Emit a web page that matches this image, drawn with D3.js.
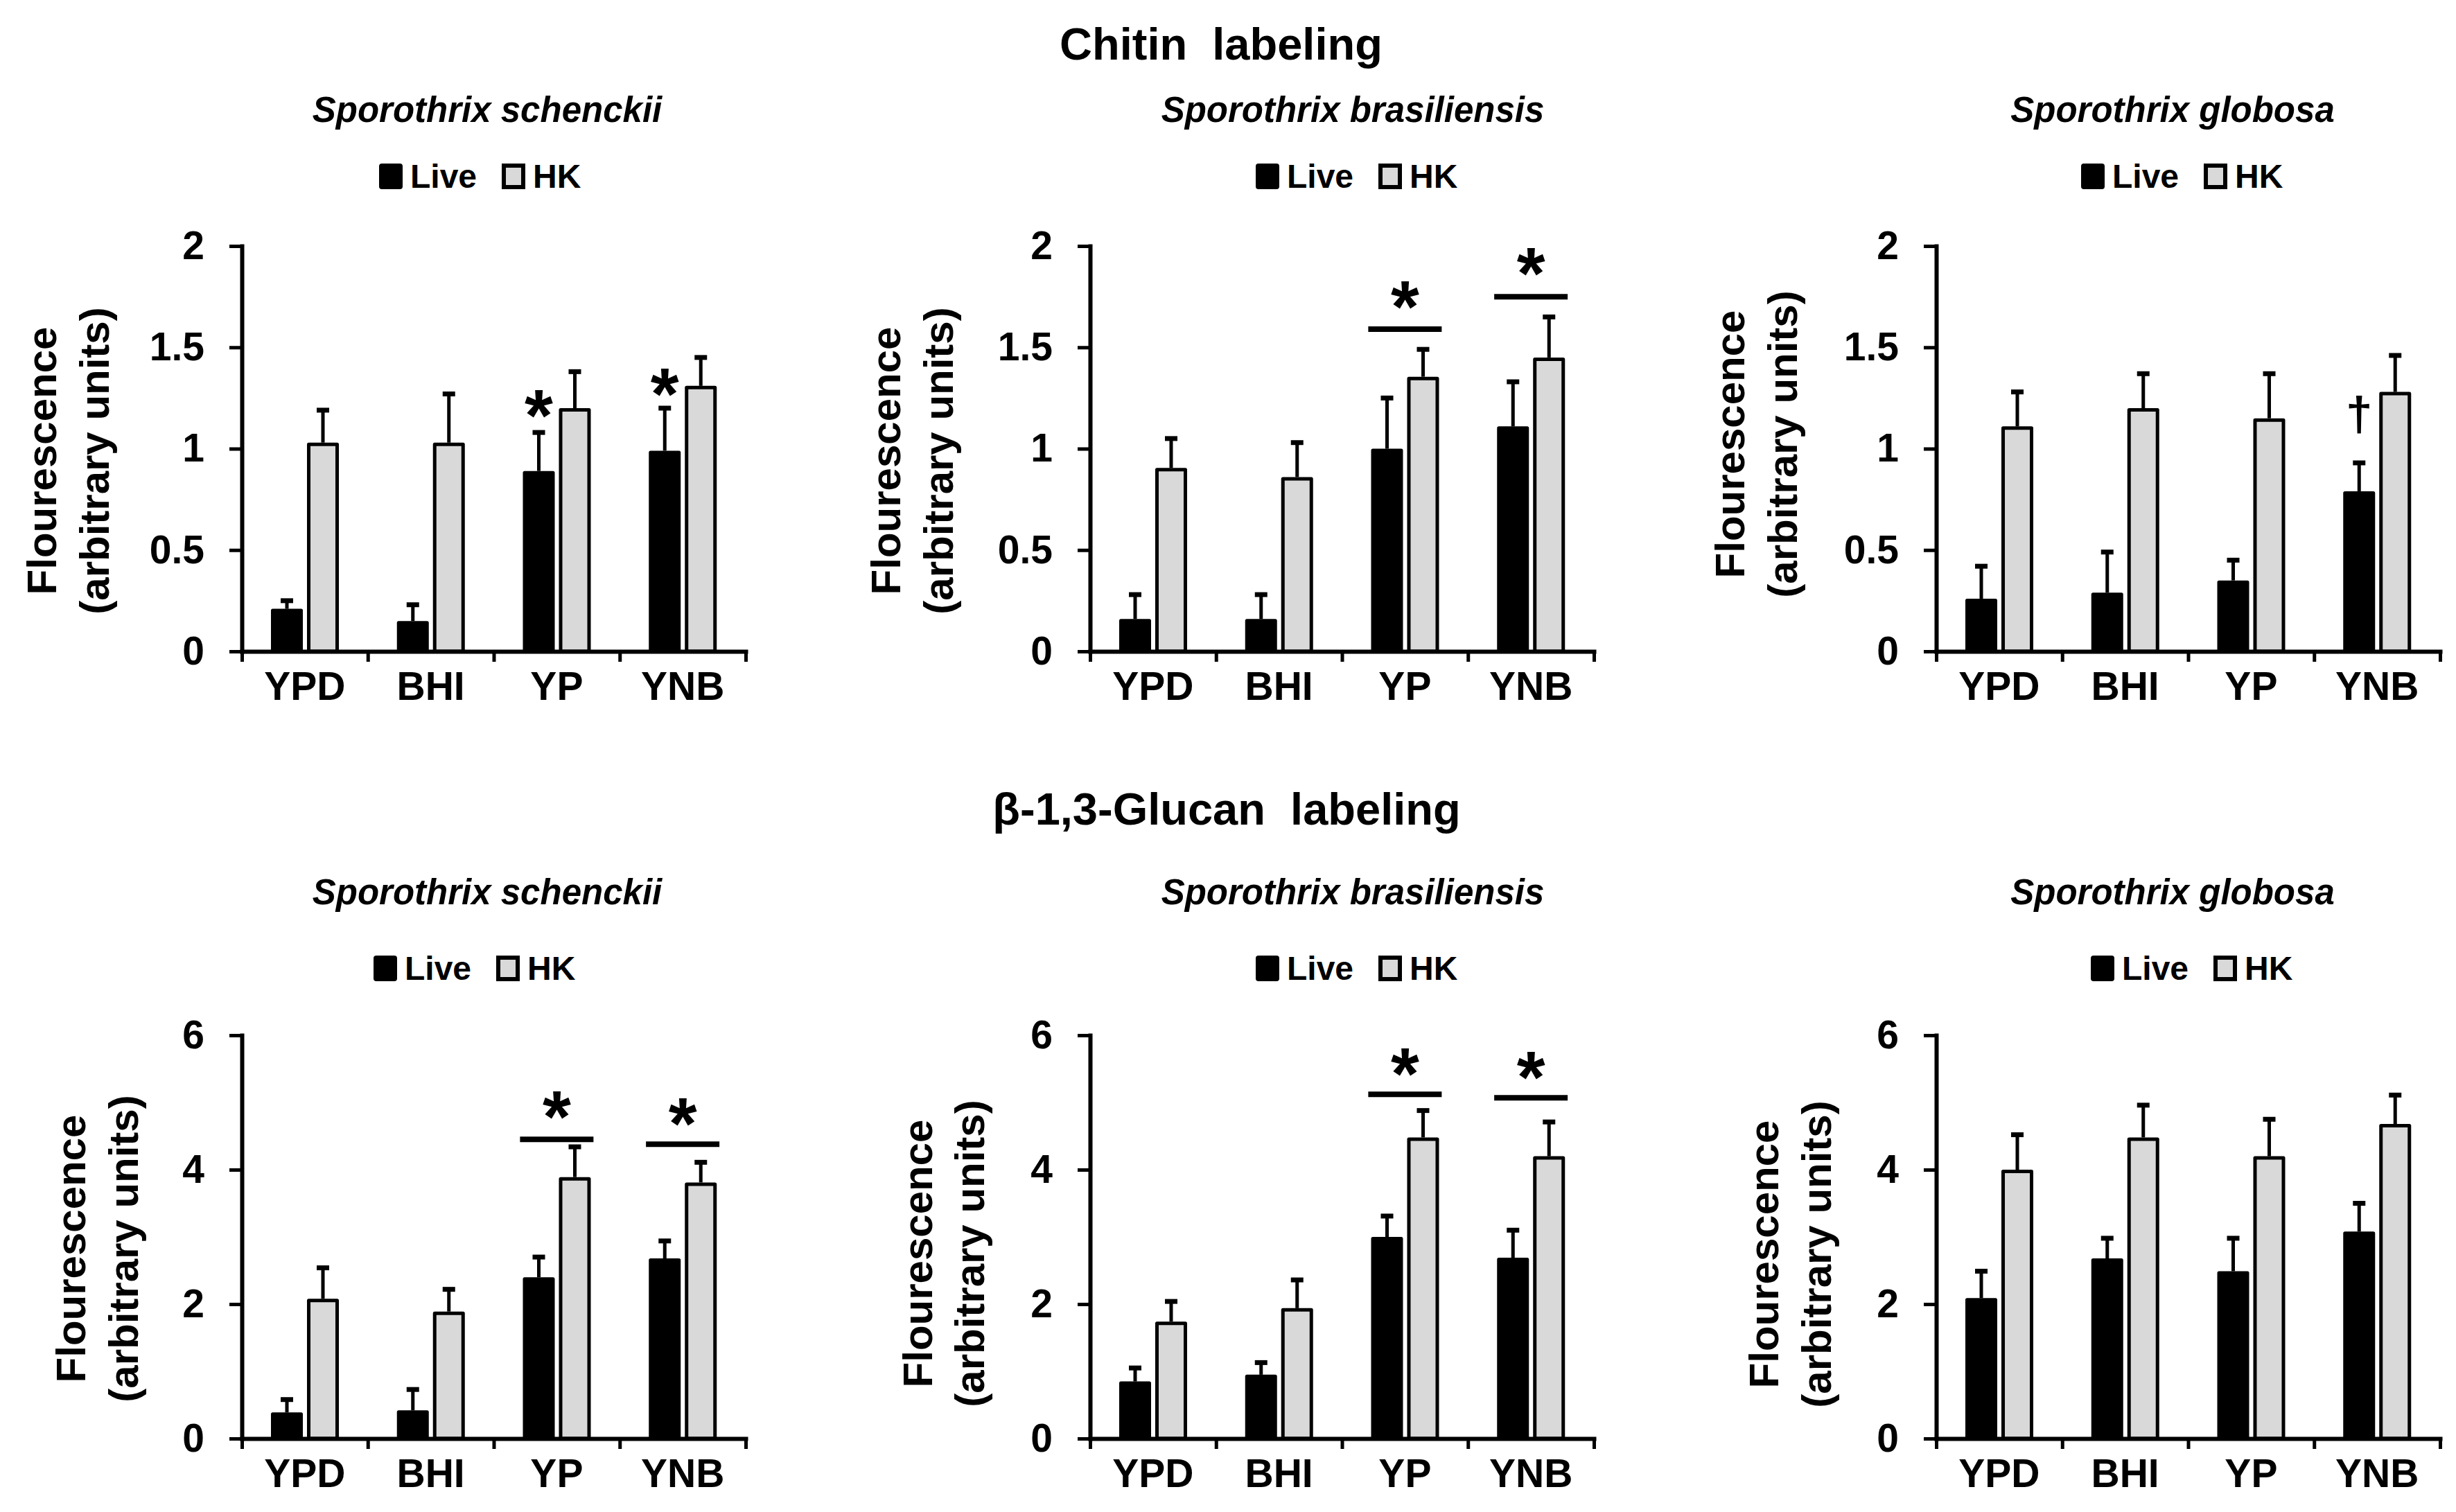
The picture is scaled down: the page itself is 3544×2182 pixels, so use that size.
<!DOCTYPE html>
<html lang="en">
  <head>
    <meta charset="utf-8">
    <title>Chitin and glucan labeling</title>
    <script src="https://d3js.org/d3.v7.min.js"></script>
    <style>
      body { margin: 0; background: #fff; }
      text { font-family: "Liberation Sans", Arial, sans-serif; font-weight: bold; fill: #000; }
    </style>
  </head>
  <body>
    <div class="chart"></div>

    <script type="text/javascript">
      // values, one row per species
      const categories = ['YPD', 'BHI', 'YP', 'YNB'];
      const groups = ['Live', 'HK'];
      const speciesNames = ['Sporothrix schenckii', 'Sporothrix brasiliensis', 'Sporothrix globosa'];
      const chitinTicks = [0, 0.5, 1, 1.5, 2];
      const glucanTicks = [0, 2, 4, 6];

      const chitinLive = [[0.21, 0.15, 0.89, 0.99], [0.16, 0.16, 1.00, 1.11], [0.26, 0.29, 0.35, 0.79]];
      const chitinLiveErr = [[0.04, 0.08, 0.19, 0.21], [0.12, 0.12, 0.25, 0.22], [0.16, 0.20, 0.10, 0.14]];
      const chitinHK = [[1.03, 1.03, 1.20, 1.31], [0.905, 0.86, 1.355, 1.45], [1.11, 1.20, 1.15, 1.28]];
      const chitinHKErr = [[0.16, 0.24, 0.18, 0.14], [0.145, 0.17, 0.135, 0.20], [0.17, 0.17, 0.22, 0.18]];

      const glucanLive = [[0.39, 0.42, 2.40, 2.68], [0.85, 0.95, 3.00, 2.69], [2.09, 2.68, 2.49, 3.08]];
      const glucanLiveErr = [[0.19, 0.31, 0.30, 0.26], [0.20, 0.18, 0.31, 0.41], [0.40, 0.30, 0.49, 0.42]];
      const glucanHK = [[2.08, 1.89, 3.89, 3.81], [1.74, 1.94, 4.48, 4.20], [4.00, 4.48, 4.20, 4.68]];
      const glucanHKErr = [[0.46, 0.33, 0.45, 0.30], [0.30, 0.42, 0.40, 0.51], [0.52, 0.48, 0.55, 0.43]];

      // significance marks: species, category, over which bars, symbol, symbol height, bar-line height
      const chitinMarks = [
        [0, 'YP', 'Live', '*', 1.226, null],
        [0, 'YNB', 'Live', '*', 1.331, null],
        [1, 'YP', 'both', '*', 1.764, 1.59],
        [1, 'YNB', 'both', '*', 1.927, 1.75],
        [2, 'YNB', 'Live', '\u2020', 1.16, null]
      ];
      const glucanMarks = [
        [0, 'YP', 'both', '*', 4.98, 4.45],
        [0, 'YNB', 'both', '*', 4.87, 4.38],
        [1, 'YP', 'both', '*', 5.61, 5.12],
        [1, 'YNB', 'both', '*', 5.56, 5.07]
      ];

      const width = 3544;
      const height = 2182;
      const panelX = [349, 1573, 2794];
      const panelW = 727;
      const titleX = [703, 1952, 3135];
      const hkFill = '#d9d9d9';

      const svg = d3.select('.chart')
          .append('svg')
          .attr('width', width)
          .attr('height', height);

      const rows = [
        {heading: 'Chitin  labeling', headX: 1762, headY: 86, ticks: chitinTicks,
         live: chitinLive, liveErr: chitinLiveErr, hk: chitinHK, hkErr: chitinHKErr, marks: chitinMarks,
         yTop: 355, yBottom: 940, speciesY: 176, legendY: 254, legendX: [547, 1812, 3003],
         ylabX: [[60, 136], [1278, 1354], [2496, 2572]], ylabY: [665, 665, 641]},
        {heading: '\u03b2-1,3-Glucan  labeling', headX: 1770, headY: 1190, ticks: glucanTicks,
         live: glucanLive, liveErr: glucanLiveErr, hk: glucanHK, hkErr: glucanHKErr, marks: glucanMarks,
         yTop: 1494, yBottom: 2076, speciesY: 1305, legendY: 1397, legendX: [539, 1812, 3017],
         ylabX: [[102, 178], [1324, 1399], [2545, 2621]], ylabY: [1802, 1809, 1810]}
      ];

      rows.forEach(row => {
          svg.append('text')
              .attr('x', row.headX)
              .attr('y', row.headY)
              .attr('text-anchor', 'middle')
              .style('font-size', '65px')
              .style('white-space', 'pre')
              .text(row.heading);

          speciesNames.forEach((name, s) => {
              const g = svg.append('g')
                  .attr('transform', `translate(${panelX[s]},0)`);

              const yScale = d3.scaleLinear()
                  .domain(d3.extent(row.ticks))
                  .range([row.yBottom, row.yTop]);

              const x0 = d3.scaleBand()
                  .domain(categories)
                  .range([0, panelW]);

              const x1 = d3.scaleBand()
                  .domain(groups)
                  .range([42, 140])
                  .paddingInner(0.115);

              // species title
              svg.append('text')
                  .attr('x', titleX[s])
                  .attr('y', row.speciesY)
                  .attr('text-anchor', 'middle')
                  .style('font-size', '51px')
                  .style('font-style', 'italic')
                  .text(name);

              // legend
              const lx = row.legendX[s], ly = row.legendY;
              const legend = svg.append('g').attr('transform', `translate(${lx},${ly})`);
              legend.append('rect')
                  .attr('x', 0).attr('y', -18)
                  .attr('width', 34).attr('height', 37)
                  .attr('rx', 4)
                  .attr('fill', '#000');
              legend.append('text')
                  .attr('x', 45).attr('y', 17)
                  .style('font-size', '48px')
                  .text(groups[0]);
              legend.append('rect')
                  .attr('x', 180).attr('y', -15)
                  .attr('width', 28).attr('height', 31)
                  .attr('fill', hkFill)
                  .attr('stroke', '#000')
                  .attr('stroke-width', 6);
              legend.append('text')
                  .attr('x', 222).attr('y', 17)
                  .style('font-size', '48px')
                  .text(groups[1]);

              // y label
              [['Flourescence', 0], ['(arbitrary units)', 1]].forEach(([t, k]) => {
                  svg.append('text')
                      .attr('transform', `translate(${row.ylabX[s][k]},${row.ylabY[s]}) rotate(-90)`)
                      .attr('text-anchor', 'middle')
                      .attr('dominant-baseline', 'central')
                      .style('font-size', '60px')
                      .text(t);
              });

              // bars
              const data = categories.map((c, i) => ({
                  cat: c,
                  values: [
                      {key: 'Live', v: row.live[s][i], e: row.liveErr[s][i]},
                      {key: 'HK', v: row.hk[s][i], e: row.hkErr[s][i]}
                  ]
              }));

              const sw = 5;
              const cat = g.selectAll('.cat')
                  .data(data)
                  .enter()
                  .append('g')
                  .attr('transform', d => `translate(${x0(d.cat)},0)`);

              cat.selectAll('rect')
                  .data(d => d.values)
                  .enter()
                  .append('rect')
                  .attr('x', d => x1(d.key) + sw / 2)
                  .attr('y', d => yScale(d.v) + sw / 2)
                  .attr('width', x1.bandwidth() - sw)
                  .attr('height', d => yScale(0) - yScale(d.v) - sw / 2)
                  .attr('fill', d => d.key === 'Live' ? '#000' : hkFill)
                  .attr('stroke', '#000')
                  .attr('stroke-width', sw)
                  .attr('stroke-linejoin', 'round');

              // error bars, upper side only
              cat.selectAll('.err')
                  .data(d => d.values)
                  .enter()
                  .append('line')
                  .attr('x1', d => x1(d.key) + x1.bandwidth() / 2)
                  .attr('x2', d => x1(d.key) + x1.bandwidth() / 2)
                  .attr('y1', d => yScale(d.v))
                  .attr('y2', d => yScale(d.v + d.e))
                  .attr('stroke', '#000')
                  .attr('stroke-width', 5);

              cat.selectAll('.cap')
                  .data(d => d.values)
                  .enter()
                  .append('line')
                  .attr('x1', d => x1(d.key) + x1.bandwidth() / 2 - 9)
                  .attr('x2', d => x1(d.key) + x1.bandwidth() / 2 + 9)
                  .attr('y1', d => yScale(d.v + d.e))
                  .attr('y2', d => yScale(d.v + d.e))
                  .attr('stroke', '#000')
                  .attr('stroke-width', 7);

              // y axis
              const yAxis = d3.axisLeft(yScale)
                  .tickValues(row.ticks)
                  .tickFormat(d3.format('~g'))
                  .tickSize(18)
                  .tickSizeOuter(0)
                  .tickPadding(36);

              const ya = g.append('g')
                  .attr('class', 'axis y-axis')
                  .call(yAxis);

              // x axis: line and ticks at the category boundaries
              const xEdge = d3.scaleLinear().domain([0, categories.length]).range([0, panelW]);
              const xa = g.append('g')
                  .attr('class', 'axis x-axis')
                  .attr('transform', `translate(0,${yScale(0)})`)
                  .call(d3.axisBottom(xEdge)
                      .tickValues(d3.range(categories.length + 1))
                      .tickFormat('')
                      .tickSize(15)
                      .tickSizeOuter(0));

              const xl = g.append('g')
                  .attr('transform', `translate(0,${yScale(0)})`)
                  .call(d3.axisBottom(x0).tickSize(0).tickPadding(30));
              xl.select('.domain').remove();

              [ya, xa, xl].forEach(a => {
                  a.selectAll('.domain').attr('stroke-width', 6).attr('stroke-linecap', 'square');
                  a.selectAll('.tick line').attr('stroke-width', 5);
                  a.selectAll('text')
                      .attr('font-family', null)
                      .style('font-size', '57px');
              });

              // significance marks
              row.marks.filter(m => m[0] === s).forEach(m => {
                  const [, c, over, sym, yMark, yLine] = m;
                  const xc = over === 'Live'
                      ? x0(c) + x1('Live') + x1.bandwidth() / 2
                      : x0(c) + x0.bandwidth() / 2;
                  if (yLine !== null) {
                      g.append('line')
                          .attr('x1', xc - 53)
                          .attr('x2', xc + 53)
                          .attr('y1', yScale(yLine))
                          .attr('y2', yScale(yLine))
                          .attr('stroke', '#000')
                          .attr('stroke-width', 8);
                  }
                  const fs = sym === '*' ? 105 : 69;
                  const off = sym === '*' ? 0.52 : 0.295;
                  g.append('text')
                      .attr('x', xc)
                      .attr('y', yScale(yMark) + off * fs)
                      .attr('text-anchor', 'middle')
                      .style('font-size', fs + 'px')
                      .text(sym);
              });
          });
      });
    </script>
  </body>
</html>
